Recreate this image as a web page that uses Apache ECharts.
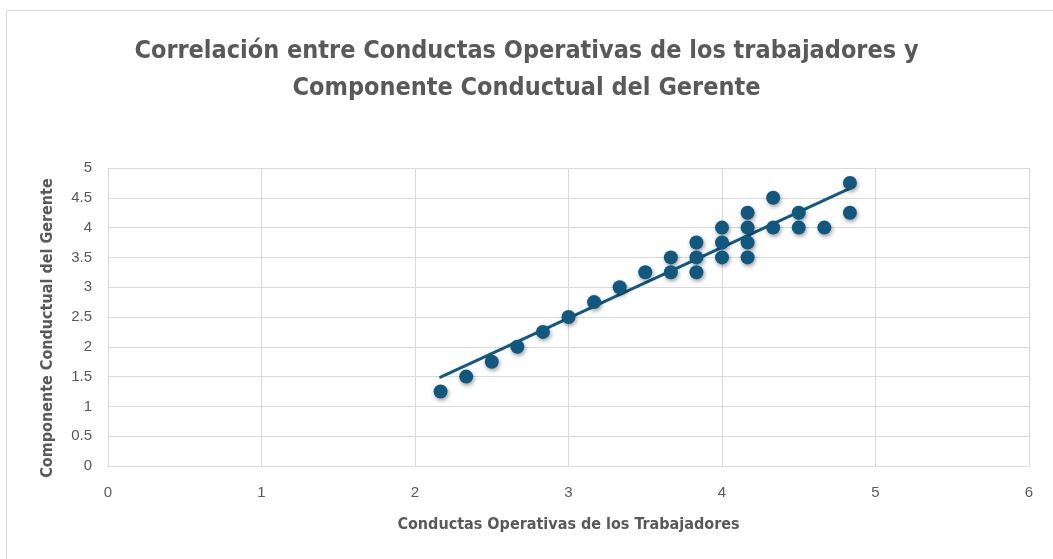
<!DOCTYPE html>
<html>
<head>
<meta charset="utf-8">
<script src="https://cdn.jsdelivr.net/npm/echarts@6/dist/echarts.min.js"></script>
<style>
  html, body { margin: 0; padding: 0; background: #fff; }
  #chart { width: 1053px; height: 559px; }
</style>
</head>
<body>
<div id="chart"></div>
<script>
// Conductas Operativas (x) vs Componente Conductual (y)
const conductasX = [2.1667, 2.3333, 2.5, 2.6667, 2.8333, 3.0, 3.1667, 3.3333, 3.5,
  3.6667, 3.6667, 3.8333, 3.8333, 3.8333, 4.0, 4.0, 4.0, 4.1667, 4.1667, 4.1667, 4.1667,
  4.3333, 4.3333, 4.5, 4.5, 4.6667, 4.8333, 4.8333]
const gerenteY = [1.25, 1.5, 1.75, 2.0, 2.25, 2.5, 2.75, 3.0, 3.25,
  3.5, 3.25, 3.75, 3.5, 3.25, 4.0, 3.75, 3.5, 4.25, 4.0, 3.75, 3.5,
  4.5, 4.0, 4.25, 4.0, 4.0, 4.75, 4.25]
// linear trendline endpoints
const trendX = [2.1667, 4.8333]
const trendY = [1.49, 4.66]

const points = conductasX.map((x, i) => [x, gerenteY[i]])
const trend = trendX.map((x, i) => [x, trendY[i]])

const titleFont = "'DejaVu Sans Condensed', 'Liberation Sans Narrow', 'Liberation Sans', sans-serif"
const tickFont = "'Liberation Sans', Arial, sans-serif"

const chart = echarts.init(document.getElementById('chart'), null, { renderer: 'canvas' })
const option = {
  backgroundColor: '#ffffff',
  animation: false,
  graphic: [
    {
      type: 'rect',
      shape: { x: 6.5, y: 10.5, width: 1060, height: 560 },
      style: { fill: 'none', stroke: '#d9d9d9', lineWidth: 1 },
      silent: true
    }
  ],
  title: {
    text: 'Correlación entre Conductas Operativas de los trabajadores y\nComponente Conductual del Gerente',
    left: 'center',
    top: 28,
    textStyle: {
      fontFamily: titleFont,
      fontWeight: 'bold',
      fontSize: 25,
      color: '#595959',
      lineHeight: 37
    }
  },
  grid: {
    left: 108,
    right: 24,
    top: 168,
    bottom: 93
  },
  xAxis: {
    type: 'value',
    min: 0,
    max: 6,
    interval: 1,
    name: 'Conductas Operativas de los Trabajadores',
    nameLocation: 'middle',
    nameGap: 51,
    nameTextStyle: {
      fontFamily: titleFont,
      fontWeight: 'bold',
      fontSize: 16,
      color: '#595959'
    },
    axisLine: { show: true, lineStyle: { color: '#d9d9d9', width: 1 } },
    axisTick: { show: false },
    axisLabel: {
      fontFamily: tickFont,
      fontSize: 15,
      color: '#595959',
      margin: 19
    },
    splitLine: { show: true, lineStyle: { color: '#d9d9d9', width: 1 } }
  },
  yAxis: {
    type: 'value',
    min: 0,
    max: 5,
    interval: 0.5,
    name: 'Componente Conductual del Gerente',
    nameLocation: 'middle',
    nameGap: 52,
    nameTextStyle: {
      fontFamily: titleFont,
      fontWeight: 'bold',
      fontSize: 16,
      color: '#595959',
      padding: [0, 22, 0, 0]
    },
    axisLine: { show: false },
    axisTick: { show: false },
    axisLabel: {
      fontFamily: tickFont,
      fontSize: 15,
      color: '#595959',
      margin: 16
    },
    splitLine: { show: true, lineStyle: { color: '#d9d9d9', width: 1 } }
  },
  series: [
    {
      name: 'trend',
      type: 'line',
      data: trend,
      symbol: 'none',
      z: 3,
      lineStyle: { color: '#145a80', width: 3, cap: 'round' }
    },
    {
      name: 'data',
      type: 'scatter',
      data: points,
      symbol: 'circle',
      symbolSize: 14,
      z: 4,
      itemStyle: {
        color: '#12577d',
        opacity: 1,
        shadowBlur: 4,
        shadowColor: 'rgba(0,0,0,0.4)',
        shadowOffsetX: 1,
        shadowOffsetY: 2
      }
    }
  ]
}
chart.setOption(option)
</script>
</body>
</html>
